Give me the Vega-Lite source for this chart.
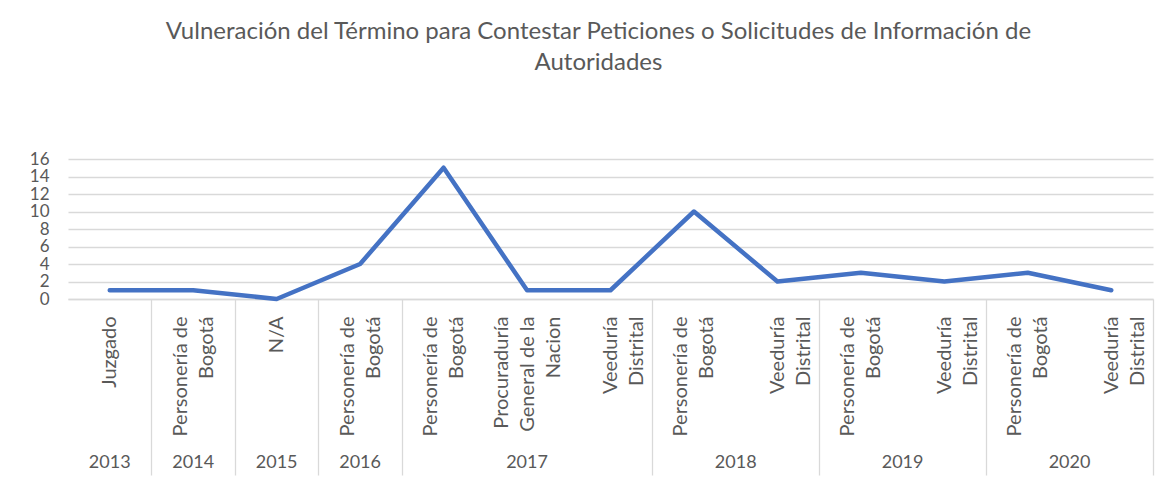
{
  "$schema": "https://vega.github.io/schema/vega-lite/v6.json",
  "background": "white",
  "padding": {"left": 29, "top": 20, "right": 20, "bottom": 5},
  "bounds": "flush",
  "spacing": 150,
  "title": {
    "text": ["Vulneración del Término para Contestar Peticiones o Solicitudes de Información de", "Autoridades"],
    "fontSize": 24, "font": "Lato", "fontWeight": "normal", "color": "#595959",
    "anchor": "middle", "offset": 75, "dx": 7, "lineHeight": 31
  },
  "datasets": {
    "main": [
      {"key": "2013|1|Juzgado", "value": 1},
      {"key": "2014|1|Personería de|Bogotá", "value": 1},
      {"key": "2015|1|N/A", "value": 0},
      {"key": "2016|1|Personería de|Bogotá", "value": 4},
      {"key": "2017|0|Personería de|Bogotá", "value": 15},
      {"key": "2017|0|Procuraduría|General de la|Nacion", "value": 1},
      {"key": "2017|1||Veeduría|Distrital", "value": 1},
      {"key": "2018|0|Personería de|Bogotá", "value": 10},
      {"key": "2018|1||Veeduría|Distrital", "value": 2},
      {"key": "2019|0|Personería de|Bogotá", "value": 3},
      {"key": "2019|1||Veeduría|Distrital", "value": 2},
      {"key": "2020|0|Personería de|Bogotá", "value": 3},
      {"key": "2020|1||Veeduría|Distrital", "value": 1}
    ],
    "years": [
      {"year": "2013", "n": 1},
      {"year": "2014", "n": 1},
      {"year": "2015", "n": 1},
      {"year": "2016", "n": 1},
      {"year": "2017", "n": 3},
      {"year": "2018", "n": 2},
      {"year": "2019", "n": 2},
      {"year": "2020", "n": 2}
    ]
  },
  "vconcat": [
    {
      "data": {"name": "main"},
      "width": 1085,
      "height": 140,
      "mark": {"type": "line", "color": "#4472C4", "strokeWidth": 4.5, "strokeCap": "round", "strokeJoin": "round"},
      "encoding": {
        "x": {
          "field": "key", "type": "nominal", "sort": null, "bandPosition": 0.5,
          "scale": {"type": "band", "paddingInner": 0, "paddingOuter": 0},
          "axis": {
            "title": null,
            "labelExpr": "slice(split(datum.label, '|'), 2)",
            "labelAngle": -90,
            "labelAlign": "right",
            "labelBaseline": "middle",
            "labelFontSize": 20,
            "labelColor": "#595959",
            "labelLineHeight": 26,
            "labelPadding": -159,
            "labelOffset": {"condition": [{"test": "length(split(datum.value, '|')) == 4", "value": -13}, {"test": "length(split(datum.value, '|')) == 5", "value": -26}], "value": 0},
            "labelOverlap": false,
            "labelLimit": 300,
            "domain": true,
            "domainColor": "#d9d9d9",
            "domainWidth": 1.3,
            "grid": false,
            "ticks": true,
            "tickBand": "extent",
            "tickExtra": true,
            "tickSize": 176,
            "tickColor": "#d9d9d9",
            "tickWidth": 1.3,
            "tickOpacity": {"condition": {"test": "split(datum.value, '|')[1] == '1'", "value": 1}, "value": 0}
          }
        },
        "y": {
          "field": "value", "type": "quantitative",
          "scale": {"domain": [0, 16], "nice": false},
          "axis": {
            "title": null,
            "values": [0, 2, 4, 6, 8, 10, 12, 14, 16],
            "domain": false,
            "ticks": false,
            "labelOverlap": false,
            "labelFontSize": 17,
            "labelColor": "#595959",
            "labelPadding": 19,
            "gridColor": "#d9d9d9",
            "gridWidth": 1.3
          }
        }
      }
    },
    {
      "data": {"name": "years"},
      "width": 1085,
      "height": 28,
      "mark": {"type": "text", "fontSize": 18, "color": "#595959"},
      "encoding": {
        "x": {
          "field": "n", "type": "quantitative", "stack": "zero", "bandPosition": 0.5,
          "scale": {"domain": [0, 13], "nice": false},
          "axis": null
        },
        "detail": {"field": "year"},
        "order": {"field": "year", "type": "ordinal", "sort": "ascending"},
        "text": {"field": "year"}
      }
    }
  ],
  "config": {"font": "Lato", "view": {"stroke": null}}
}
